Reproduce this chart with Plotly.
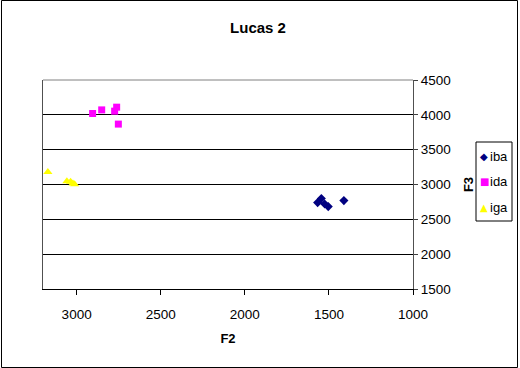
import plotly.graph_objects as go

title = "Lucas 2"
series_names = ["iba", "ida", "iga"]
series_colors = ["#000080", "#FF00FF", "#FFFF00"]
series_glyphs = ["\u25C6", "\u25A0", "\u25B2"]
iba_f2 = [1567, 1545, 1525, 1504, 1411]
iba_f3 = [2740, 2800, 2720, 2683, 2769]
ida_f2 = [2905, 2851, 2774, 2762, 2752]
ida_f3 = [4019, 4071, 4053, 4110, 3867]
iga_f2 = [3171, 3058, 3036, 3022, 3012]
iga_f3 = [3180, 3047, 3038, 3014, 3004]
x_ticks = [3000, 2500, 2000, 1500, 1000]
y_ticks = [1500, 2000, 2500, 3000, 3500, 4000, 4500]

FONT = "Liberation Sans, Arial, sans-serif"
L, R, T, B = 43, 107, 80, 79
PW, PH = 520 - L - R, 368 - T - B


def px(x):
    return (x - L) / PW


def py(y):
    return (368 - B - y) / PH


fig = go.Figure()
fig.add_trace(go.Scatter(x=iba_f2, y=iba_f3, mode="markers", name=series_names[0],
                         marker=dict(symbol="diamond", size=7, color=series_colors[0])))
fig.add_trace(go.Scatter(x=ida_f2, y=ida_f3, mode="markers", name=series_names[1],
                         marker=dict(symbol="square", size=7, color=series_colors[1])))
fig.add_trace(go.Scatter(x=iga_f2, y=iga_f3, mode="markers", name=series_names[2],
                         marker=dict(symbol="triangle-up", size=8, color=series_colors[2])))

# legend drawn as a boxed key (Excel style, compact)
annotations = []
legend_rows = [156, 181, 207]
for name, col, glyph, yy in zip(series_names, series_colors, series_glyphs, legend_rows):
    annotations.append(dict(xref="paper", yref="paper", x=px(484.5), y=py(yy),
                            xanchor="center", yanchor="middle", showarrow=False,
                            text=glyph, font=dict(size=10, color=col,
                                                  family="DejaVu Sans")))
    annotations.append(dict(xref="paper", yref="paper", x=px(488), y=py(yy),
                            xanchor="left", yanchor="middle", showarrow=False,
                            text=name, font=dict(size=13, color="black")))

fig.update_layout(
    width=520, height=368,
    margin=dict(l=L, r=R, t=T, b=B, autoexpand=False),
    paper_bgcolor="white", plot_bgcolor="white",
    font=dict(family=FONT, size=13, color="black"),
    title=dict(text="<b>" + title + "</b>", x=258 / 520, xanchor="center",
               y=1 - 28 / 368, yanchor="middle", font=dict(size=15)),
    xaxis=dict(range=[3200, 1000], tickvals=x_ticks, ticks="outside", ticklen=5,
               tickcolor="black", showgrid=False, zeroline=False, automargin=False,
               showline=True, linecolor="black", linewidth=1, mirror=False,
               ticklabelstandoff=8, tickfont=dict(size=13.5),
               title=dict(text="<b>F2</b>", standoff=12, font=dict(size=13))),
    yaxis=dict(range=[1500, 4500], tickvals=y_ticks, side="right", ticks="outside",
               ticklen=4, tickcolor="#404040", showgrid=True, gridcolor="black",
               gridwidth=1, zeroline=False, showline=True, linecolor="#505050",
               linewidth=1, mirror=True, automargin=False, tickfont=dict(size=13.5),
               title=dict(text="<b>F3</b>", standoff=14, font=dict(size=13))),
    showlegend=False,
    annotations=annotations,
    shapes=[
        dict(type="rect", xref="paper", yref="paper",
             x0=px(1.5), x1=px(517.5), y0=py(367.5), y1=py(0.5),
             line=dict(color="black", width=1), fillcolor="rgba(0,0,0,0)", layer="below"),
        dict(type="line", xref="paper", yref="paper", x0=0, x1=1, y0=1, y1=1,
             line=dict(color="#808080", width=1), layer="above"),
        dict(type="rect", xref="paper", yref="paper",
             x0=px(476), x1=px(512), y0=py(221), y1=py(142),
             line=dict(color="black", width=1), fillcolor="white", layer="below"),
    ],
)

fig.write_html("out.html",
               config={"displayModeBar": False},
               post_script="document.body.style.margin='0';"
                           "document.documentElement.style.overflow='hidden';")
